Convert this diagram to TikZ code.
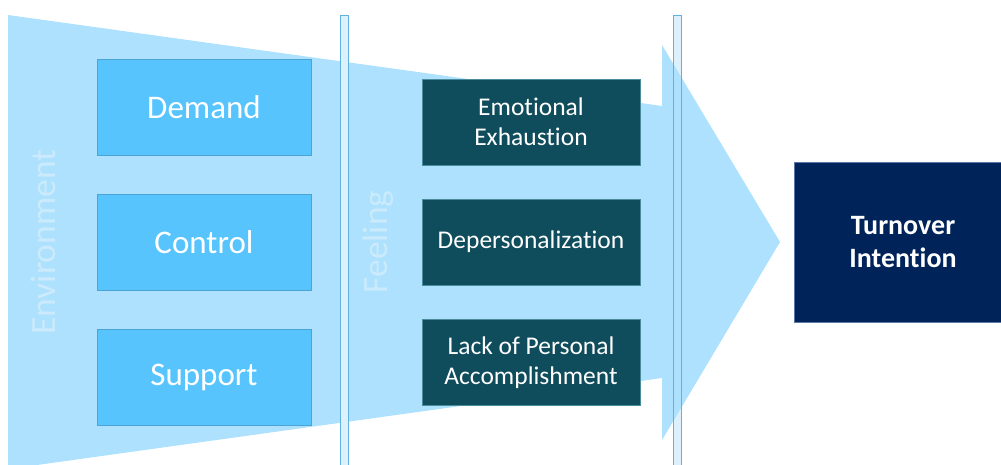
\documentclass[tikz,border=0pt]{standalone}
\usepackage{fontspec}
\setmainfont[Ligatures=NoCommon]{Carlito}
\definecolor{flowc}{HTML}{ADE1FD}
\definecolor{envbox}{HTML}{57C4FE}
\definecolor{envline}{HTML}{4CA4D6}
\definecolor{feelbox}{HTML}{0F4C5C}
\definecolor{feelline}{HTML}{4A8C9C}
\definecolor{outbox}{HTML}{00235A}
\definecolor{outline}{HTML}{5A78A8}
\definecolor{barfill}{HTML}{DDF1FD}
\definecolor{barline}{HTML}{62B2E0}
\definecolor{stagec}{HTML}{CBEBFC}
\begin{document}
\begin{tikzpicture}[x=1pt,y=-1pt,
  envnode/.style={draw=envline,line width=0.8pt,fill=envbox,text=white,
    minimum width=214pt,minimum height=96pt,inner sep=0pt,
    font=\fontsize{33}{40}\selectfont},
  feelnode/.style={draw=feelline,line width=0.6pt,fill=feelbox,text=white,
    minimum width=218pt,minimum height=86pt,inner sep=0pt,align=center,
    font=\fontsize{25.5}{30}\selectfont},
  outnode/.style={draw=outline,line width=0.6pt,fill=outbox,text=white,
    minimum width=218pt,minimum height=160pt,inner sep=0pt,align=center,
    font=\fontsize{28}{33}\selectfont\bfseries},
  stagelabel/.style={text=stagec,rotate=90,inner sep=0pt,
    font=\fontsize{35.5}{40}\selectfont},
  bar/.style={draw=barline,line width=0.9pt,fill=barfill},
  baredge/.style={draw=barline,line width=0.9pt}]
\useasboundingbox (0,0) rectangle (1001,465);
% body of the flow arrow
\fill[flowc] (8,15) -- (662,106) -- (662,378) -- (37,465) -- (8,465) -- cycle;
% stage separators
\draw[bar] (340,15) rectangle (348,470);
\fill[barfill] (673,15) rectangle (681,470);
% arrow head covers the second separator, whose edges stay visible
\fill[flowc] (662,45) -- (780,242) -- (662,440) -- cycle;
\draw[baredge] (673,15) rectangle (681,470);
% stage labels
\node[stagelabel] (env) at (43,242) {Environment};
\node[stagelabel] (feel) at (378,242) {Feeling};
% environment factors
\node[envnode] (demand) at (204,107) {Demand};
\node[envnode] (control) at (204,242) {Control};
\node[envnode] (support) at (204,377) {Support};
% burnout dimensions
\node[feelnode] (ee) at (531,122) {Emotional\\Exhaustion};
\node[feelnode] (dp) at (531,242) {Depersonalization};
\node[feelnode] (pa) at (531,362.5) {Lack of Personal\\Accomplishment};
% outcome
\node[outnode] (ti) at (903,242) {Turnover\\Intention};
\end{tikzpicture}
\end{document}
